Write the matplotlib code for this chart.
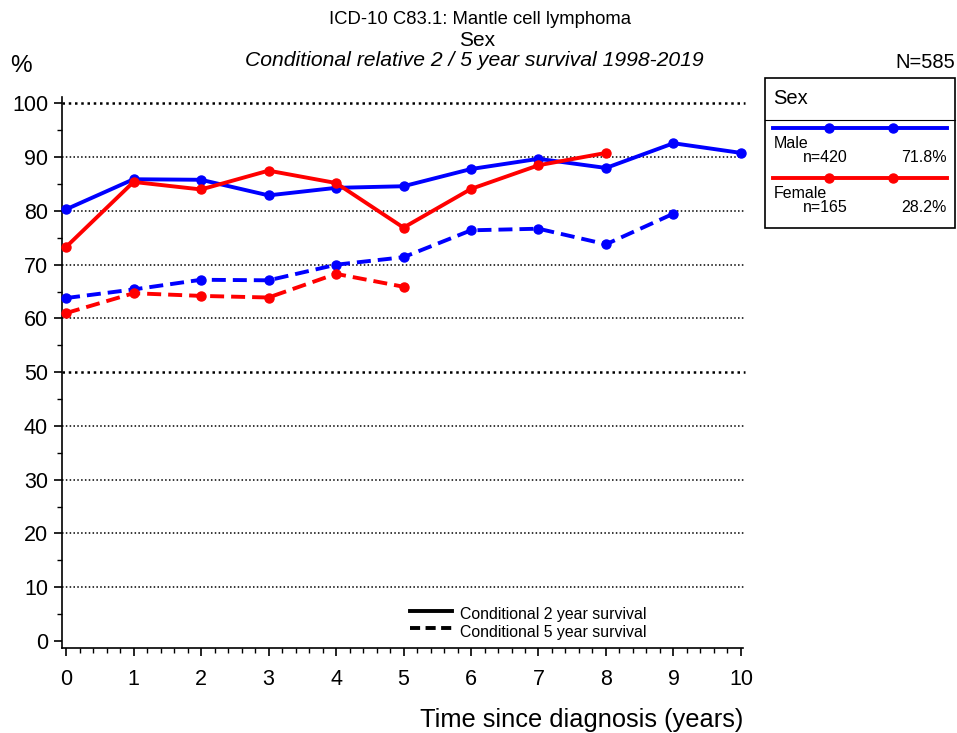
import matplotlib
matplotlib.use('Agg')
import matplotlib.pyplot as plt
from matplotlib.lines import Line2D
from matplotlib.patches import Rectangle

plt.rcParams['font.family'] = ['Liberation Sans', 'DejaVu Sans']

years = list(range(11))
male_2y = [80.3, 85.9, 85.8, 82.9, 84.3, 84.6, 87.8, 89.7, 88.0, 92.6, 90.8]
female_2y = [73.3, 85.4, 84.0, 87.5, 85.2, 76.9, 84.1, 88.5, 90.8]
male_5y = [63.8, 65.4, 67.2, 67.1, 70.0, 71.4, 76.4, 76.7, 73.8, 79.5]
female_5y = [61.0, 64.7, 64.2, 63.9, 68.3, 65.9]
yticks = list(range(0, 101, 10))

W, H = 957, 733
fig = plt.figure(figsize=(W / 100, H / 100), dpi=100)


def fx(px):
    return px / W


def fy(py):
    return 1 - py / H


ax = fig.add_axes([fx(62), fy(648), fx(743) - fx(62), fy(97) - fy(648)])
ax.set_xlim(-0.06, 10.03)
ax.set_ylim(-1.3, 101.2)

for v in yticks[1:]:
    lw = 1.8 if v in (50, 100) else 1.1
    ax.plot([-0.06, 10.06], [v, v], color='black', lw=lw, ls=(0, (1, 1.5)),
            clip_on=False, zorder=1)

blue = '#0000ff'
red = '#ff0000'
kw = dict(lw=2.8, marker='o', ms=6.5, zorder=3, clip_on=False)
ax.plot(years[:len(male_5y)], male_5y, color=blue, ls=(0, (3.6, 1.8)), **kw)
ax.plot(years[:len(female_5y)], female_5y, color=red, ls=(0, (3.6, 1.8)), **kw)
ax.plot(years[:len(male_2y)], male_2y, color=blue, **kw)
ax.plot(years[:len(female_2y)], female_2y, color=red, **kw)

ax.spines['top'].set_visible(False)
ax.spines['right'].set_visible(False)
ax.spines['left'].set_linewidth(1.2)
ax.spines['bottom'].set_linewidth(1.2)
ax.set_yticks(yticks)
ax.set_yticks(range(5, 100, 10), minor=True)
ax.set_xticks(years)
ax.set_xticks([i / 5 for i in range(51)], minor=True)
ax.tick_params(axis='both', which='major', labelsize=15.5, length=6, width=1.2, pad=4)
ax.tick_params(axis='x', which='major', pad=9)
ax.tick_params(axis='both', which='minor', length=3.5, width=1)
ax.set_xlabel('Time since diagnosis (years)', fontsize=18.3, ha='right', x=1.0, labelpad=13)

fig.text(fx(480), fy(19), 'ICD-10 C83.1: Mantle cell lymphoma', ha='center', va='center', fontsize=13.3)
fig.text(fx(477), fy(40), 'Sex', ha='center', va='center', fontsize=15)
fig.text(fx(474), fy(61), 'Conditional relative 2 / 5 year survival 1998-2019', ha='center',
         va='center', fontsize=15.2, style='italic')
fig.text(fx(10), fy(66), '%', ha='left', va='center', fontsize=17.5)
fig.text(fx(955), fy(62), 'N=585', ha='right', va='center', fontsize=14.5)

# group legend box
fig.patches.append(Rectangle((fx(765), fy(228)), fx(955) - fx(765), fy(78) - fy(228),
                             transform=fig.transFigure, fill=False, ec='black', lw=1.2))
fig.lines.append(Line2D([fx(765), fx(955)], [fy(120), fy(120)], transform=fig.transFigure,
                        color='black', lw=0.8))
fig.text(fx(773), fy(98), 'Sex', ha='left', va='center', fontsize=14.5)
groups = [('Male', 'n=420', '71.8%', blue, 128), ('Female', 'n=165', '28.2%', red, 178)]
for name, n, pct, col, ly in groups:
    fig.lines.append(Line2D([fx(773), fx(947)], [fy(ly), fy(ly)], transform=fig.transFigure,
                            color=col, lw=2.8))
    fig.lines.append(Line2D([fx(829), fx(893)], [fy(ly), fy(ly)], transform=fig.transFigure,
                            color=col, lw=0, marker='o', ms=6.5))
    fig.text(fx(774), fy(ly + 15), name, ha='left', va='center', fontsize=11.5)
    fig.text(fx(803), fy(ly + 30), n, ha='left', va='center', fontsize=11.5)
    fig.text(fx(947), fy(ly + 30), pct, ha='right', va='center', fontsize=11.5)

# line style legend
fig.lines.append(Line2D([fx(410), fx(452)], [fy(611), fy(611)], transform=fig.transFigure,
                        color='black', lw=2.8))
fig.lines.append(Line2D([fx(410), fx(452)], [fy(628), fy(628)], transform=fig.transFigure,
                        color='black', lw=2.8, ls=(0, (2.6, 1.4))))
fig.text(fx(460), fy(614), 'Conditional 2 year survival', ha='left', va='center', fontsize=11.4)
fig.text(fx(460), fy(632), 'Conditional 5 year survival', ha='left', va='center', fontsize=11.4)

fig.savefig('out.png', dpi=100)
